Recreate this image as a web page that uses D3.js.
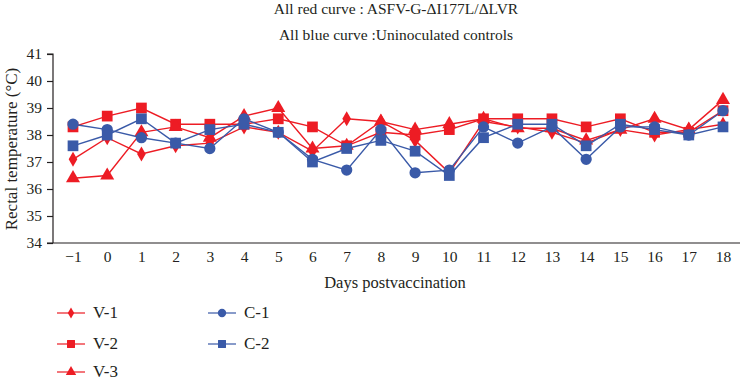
<!DOCTYPE html>
<html><head><meta charset="utf-8">
<script src="https://cdn.jsdelivr.net/npm/d3@7"></script>
<style>body{margin:0;background:#fff}svg{display:block}</style>
</head><body>
<svg id="c" width="741" height="382"></svg>
<script>
const days = [-1,0,1,2,3,4,5,6,7,8,9,10,11,12,13,14,15,16,17,18];
const v1 = [37.1,37.9,37.3,37.6,37.7,38.3,38.1,37.4,38.6,38.5,37.8,36.6,38.5,38.3,38.1,37.7,38.2,38.0,38.2,38.4];
const v2 = [38.3,38.7,39.0,38.4,38.4,38.4,38.6,38.3,37.6,38.1,38.0,38.2,38.6,38.6,38.6,38.3,38.6,38.1,38.1,38.9];
const v3 = [36.4,36.5,38.1,38.3,37.9,38.7,39.0,37.5,37.6,38.5,38.2,38.4,38.6,38.25,38.25,37.8,38.2,38.6,38.2,39.3];
const c1 = [38.4,38.2,37.9,37.7,37.5,38.6,38.1,37.1,36.7,38.2,36.6,36.7,38.3,37.7,38.3,37.1,38.3,38.3,38.0,38.9];
const c2 = [37.6,38.0,38.6,37.7,38.2,38.4,38.1,37.0,37.5,37.8,37.4,36.5,37.9,38.4,38.4,37.6,38.4,38.2,38.0,38.3];
const yTicks = [34,35,36,37,38,39,40,41];
const seriesNames = ["V-1","V-2","V-3","C-1","C-2"];
const titleLines = ["All red curve : ASFV-G-ΔI177L/ΔLVR","All blue curve :Uninoculated controls"];

const RED = "#ed1c24", BLUE = "#3a5aa8";
const series = [
  {name:seriesNames[0], vals:v1, color:RED, sym:d3.symbolDiamond, size:65},
  {name:seriesNames[1], vals:v2, color:RED, sym:d3.symbolSquare, size:115},
  {name:seriesNames[2], vals:v3, color:RED, sym:d3.symbolTriangle, size:85},
  {name:seriesNames[3], vals:c1, color:BLUE, sym:d3.symbolCircle, size:100},
  {name:seriesNames[4], vals:c2, color:BLUE, sym:d3.symbolSquare, size:115}
];
const FONT = "'Liberation Serif','DejaVu Serif',serif";
const svg = d3.select("#c");
const x = d3.scalePoint().domain(days).range([73,723]);
const y = d3.scaleLinear().domain([34,41]).range([243,54]);
const AX = "#231f20";

// titles
svg.selectAll("text.title").data(titleLines).enter().append("text")
  .attr("x",396).attr("y",(d,i)=>14+i*26).attr("text-anchor","middle")
  .attr("font-family",FONT).attr("font-size",15.5).attr("fill","#231f20").text(d=>d);

// y axis
const gy = svg.append("g").attr("transform","translate(53,0)")
  .call(d3.axisLeft(y).tickValues(yTicks).tickSize(6).tickPadding(5).tickFormat(d3.format("d")));
gy.select(".domain").attr("stroke",AX).attr("stroke-width",1.2).attr("d","M-6,54H0V243");
gy.selectAll(".tick line").attr("stroke",AX).attr("stroke-width",1.2);
gy.selectAll(".tick text").attr("font-family",FONT).attr("font-size",15.5).attr("fill",AX);

// x axis
const gx = svg.append("g").attr("transform","translate(0,243)")
  .call(d3.axisBottom(x).tickSize(0).tickPadding(8).tickFormat(d=>d<0?"\u2212"+Math.abs(d):d));
gx.select(".domain").attr("stroke",AX).attr("stroke-width",1.2).attr("d","M47,0H740");
gx.selectAll(".tick text").attr("font-family",FONT).attr("font-size",15.5).attr("fill",AX);

svg.append("text").attr("x",395).attr("y",288).attr("text-anchor","middle")
  .attr("font-family",FONT).attr("font-size",16.5).attr("fill",AX).text("Days postvaccination");
svg.append("text").attr("transform","translate(17,149) rotate(-90)").attr("text-anchor","middle")
  .attr("font-family",FONT).attr("font-size",17).attr("fill",AX).text("Rectal temperature (°C)");

// lines and markers
const line = d3.line().x((d,i)=>x(days[i])).y(d=>y(d));
series.forEach(s=>{
  const g = svg.append("g");
  g.append("path").attr("d",line(s.vals)).attr("fill","none").attr("stroke",s.color).attr("stroke-width",1.4);
  g.selectAll("path.m").data(s.vals).enter().append("path").attr("class","m")
    .attr("transform",(d,i)=>`translate(${x(days[i])},${y(d)})`)
    .attr("d",d3.symbol().type(s.sym).size(s.size)()).attr("fill",s.color);
});

// legend
const legPos = [[57,313],[57,344],[57,372],[208,313],[208,344]];
series.forEach((s,i)=>{
  const [lx,ly] = legPos[i];
  const g = svg.append("g").attr("transform",`translate(${lx},${ly})`);
  g.append("line").attr("x1",0).attr("x2",28).attr("y1",0).attr("y2",0).attr("stroke",s.color).attr("stroke-width",1.5).attr("opacity",0.8);
  g.append("path").attr("transform","translate(14,0)").attr("d",d3.symbol().type(s.sym).size(s.size*0.55)()).attr("fill",s.color);
  g.append("text").attr("x",36).attr("y",5).attr("font-family",FONT).attr("font-size",17).attr("fill",AX).text(s.name);
});
</script>
</body></html>
